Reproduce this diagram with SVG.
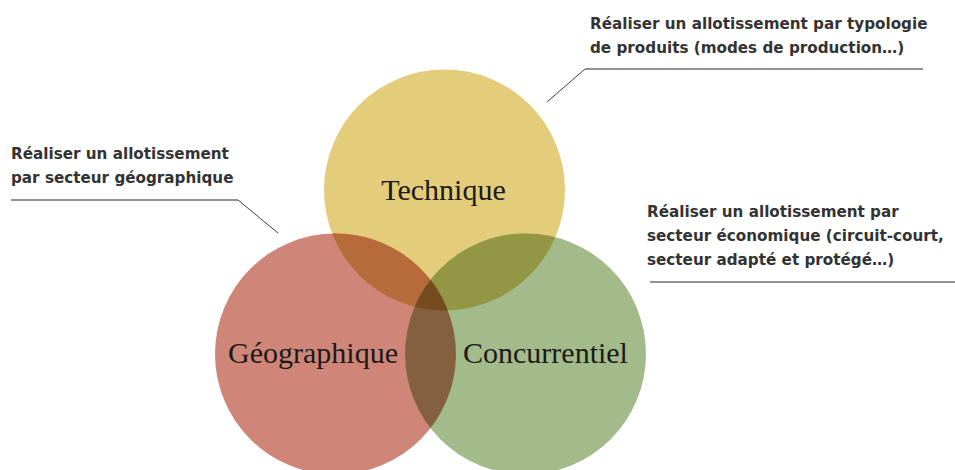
<svg xmlns="http://www.w3.org/2000/svg" width="955" height="470" viewBox="0 0 955 470">
<style>
.lbl{font-family:"Liberation Serif","Times New Roman",serif;font-size:30px;fill:#1c1a17;text-anchor:middle}
.note{font-family:"DejaVu Sans",Verdana,sans-serif;font-weight:bold;font-size:15.2px;fill:#333333}
.hl{fill:none;stroke:#6e6e6e;stroke-width:1.4}
.dl{fill:none;stroke:#3f3f3f;stroke-width:1}
</style>
<defs>
<clipPath id="cT"><circle cx="444.5" cy="190" r="120.5"/></clipPath>
<clipPath id="cL"><circle cx="335.5" cy="354" r="120.5"/></clipPath>
<clipPath id="cR"><circle cx="525.5" cy="354" r="120.5"/></clipPath>
</defs>
<rect width="955" height="470" fill="#ffffff"/>
<g id="technique">
<circle cx="444.5" cy="190" r="120.5" fill="#E3CC7A"/>
</g>
<g id="geographique">
<circle cx="335.5" cy="354" r="120.5" fill="#CF8577"/>
</g>
<g id="concurrentiel">
<circle cx="525.5" cy="354" r="120.5" fill="#A3BB8A"/>
</g>
<g id="overlaps">
<circle cx="444.5" cy="190" r="120.5" fill="#B86B3A" clip-path="url(#cL)"/>
<circle cx="444.5" cy="190" r="120.5" fill="#939743" clip-path="url(#cR)"/>
<circle cx="335.5" cy="354" r="120.5" fill="#846040" clip-path="url(#cR)"/>
<g clip-path="url(#cL)"><circle cx="444.5" cy="190" r="120.5" fill="#764B1F" clip-path="url(#cR)"/></g>
</g>
<g id="labels">
<text class="lbl" x="443.5" y="200">Technique</text>
<text class="lbl" x="313" y="363">Géographique</text>
<text class="lbl" x="545.5" y="363">Concurrentiel</text>
</g>
<g id="connectors">
<line class="hl" x1="11" y1="200" x2="238" y2="200"/>
<line class="dl" x1="238" y1="200" x2="278" y2="233"/>
<line class="hl" x1="585" y1="69" x2="923" y2="69"/>
<line class="dl" x1="585" y1="69" x2="547" y2="102"/>
<line class="hl" x1="650" y1="282" x2="955" y2="282"/>
</g>
<g id="note-geo">
<text class="note" x="11" y="159">Réaliser un allotissement</text>
<text class="note" x="11" y="183">par secteur géographique</text>
</g>
<g id="note-tech">
<text class="note" x="590" y="28.5">Réaliser un allotissement par typologie</text>
<text class="note" x="590" y="52.5">de produits (modes de production…)</text>
</g>
<g id="note-conc">
<text class="note" x="647" y="216.5">Réaliser un allotissement par</text>
<text class="note" x="647" y="240.5">secteur économique (circuit-court,</text>
<text class="note" x="647" y="264.5">secteur adapté et protégé…)</text>
</g>
</svg>
